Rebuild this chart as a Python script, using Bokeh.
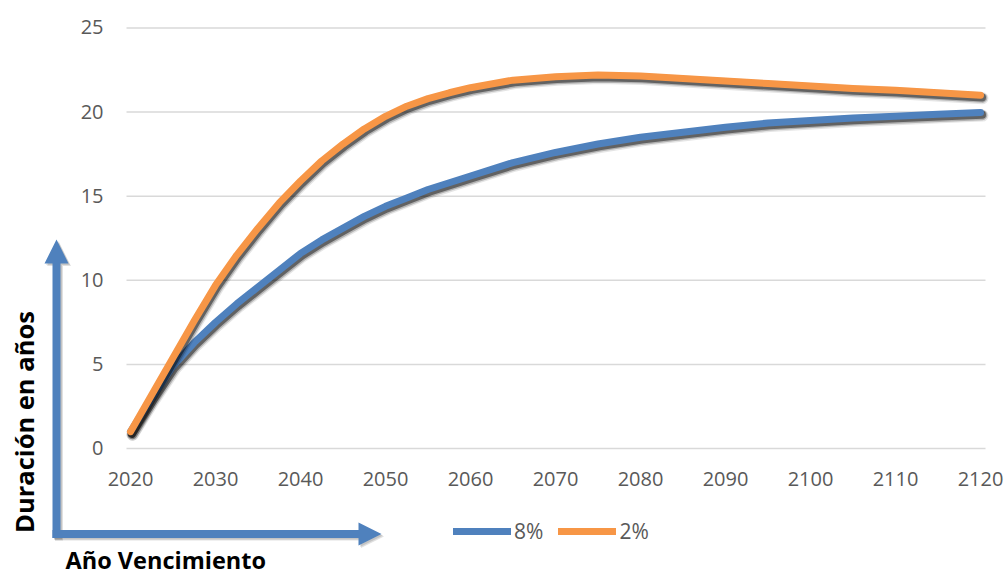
import math
from bokeh.plotting import figure
from bokeh.models import Range1d, Legend, LegendItem
from bokeh.core.properties import value
from bokeh.embed import file_html
from bokeh.resources import INLINE

# ---- data ----
years = [2020, 2022.5, 2025, 2027.5, 2030, 2032.5, 2035, 2037.5, 2040, 2042.5, 2045,
         2047.5, 2050, 2052.5, 2055, 2057.5, 2060, 2065, 2070, 2075, 2080, 2085,
         2090, 2095, 2100, 2105, 2110, 2115, 2120]
dur_8 = [1.0, 3.0, 4.9, 6.3, 7.5, 8.6, 9.6, 10.6, 11.6, 12.4, 13.1,
         13.8, 14.4, 14.9, 15.4, 15.8, 16.2, 17.0, 17.6, 18.1, 18.5, 18.8,
         19.1, 19.35, 19.5, 19.65, 19.76, 19.87, 19.97]
dur_2 = [1.0, 3.2, 5.4, 7.6, 9.7, 11.5, 13.1, 14.6, 15.9, 17.1, 18.1,
         19.0, 19.75, 20.35, 20.8, 21.15, 21.45, 21.9, 22.1, 22.2, 22.15, 22.0,
         21.85, 21.7, 21.55, 21.4, 21.3, 21.15, 21.0]
series_names = ["8%", "2%"]
x_ticks = [2020, 2030, 2040, 2050, 2060, 2070, 2080, 2090, 2100, 2110, 2120]
x_tick_labels = [str(t) for t in x_ticks]
y_ticks = [0, 5, 10, 15, 20, 25]
y_tick_labels = [str(t) for t in y_ticks]
x_title = "Año Vencimiento"
y_title = "Duración en años"

BLUE = "#4F81BD"
ORANGE = "#F79646"
GREY = "#595959"
GRID = "#d9d9d9"
FONT = "Open Sans"
W, H = 1007, 575

# scale: page pixels <-> data (frame covers the whole page)
PX_PER_YEAR = 8.5
PX_PER_UNIT = 16.82
X_PX_2020 = 130.0
Y_PX_0 = 448.0


def dx(px):
    return 2020 + (px - X_PX_2020) / PX_PER_YEAR


def dy(py):
    return (Y_PX_0 - py) / PX_PER_UNIT


p = figure(width=W, height=H, x_range=Range1d(dx(0), dx(W)), y_range=Range1d(dy(H), dy(0)),
           output_backend="svg", toolbar_location=None, min_border=0)
p.axis.visible = False
p.grid.visible = False
p.outline_line_color = None
p.background_fill_color = "white"
p.border_fill_color = "white"

# horizontal gridlines
p.segment(x0=[dx(126)] * len(y_ticks), x1=[dx(985)] * len(y_ticks), y0=y_ticks, y1=y_ticks,
          line_color=GRID, line_width=1.5)

# tick labels
p.text(x=x_ticks, y=[dy(478.5)] * len(x_ticks), text=x_tick_labels,
       text_align="center", text_baseline="middle", text_color=GREY,
       text_font=value(FONT), text_font_size="20px")
p.text(x=[dx(103)] * len(y_ticks), y=[t + 0.6 / PX_PER_UNIT for t in y_ticks], text=y_tick_labels,
       text_align="right", text_baseline="middle", text_color=GREY,
       text_font=value(FONT), text_font_size="20px")

# decorative axis arrows
v_arrow = [(52, 537.5), (60, 537.5), (60, 263), (68, 263), (56, 239), (44, 263), (52, 263)]
h_arrow = [(52, 529.5), (358, 529.5), (358, 522), (381, 533.5), (358, 545), (358, 537.5), (52, 537.5)]
for off, col, alpha in ((2.5, "black", 0.12), (1.5, "black", 0.12), (0, BLUE, 1.0)):
    p.patches(xs=[[dx(a + off) for a, b in poly] for poly in (v_arrow, h_arrow)],
              ys=[[dy(b + off) for a, b in poly] for poly in (v_arrow, h_arrow)],
              fill_color=col, fill_alpha=alpha, line_alpha=0)

# axis titles
p.text(x=[dx(23)], y=[dy(421.5)], text=[y_title], angle=math.pi / 2,
       text_align="center", text_baseline="middle", text_color="black",
       text_font=value(FONT), text_font_style="bold", text_font_size="25.5px")
p.text(x=[dx(65)], y=[dy(559)], text=[x_title],
       text_align="left", text_baseline="middle", text_color="black",
       text_font=value(FONT), text_font_style="bold", text_font_size="23.5px")

# series with soft drop shadow
px_x = 1.0 / PX_PER_YEAR
px_y = 1.0 / PX_PER_UNIT
renderers = []
for vals, col in ((dur_8, BLUE), (dur_2, ORANGE)):
    for w, a, ox, oy in ((12, 0.10, 2.0, 3.0), (10, 0.22, 1.8, 2.6), (8, 0.45, 1.5, 2.2)):
        p.line([x + ox * px_x for x in years], [v - oy * px_y for v in vals],
               line_width=w, line_color="black", line_alpha=a,
               line_cap="round", line_join="round")
    r = p.line(years, vals, line_width=7, line_color=col, line_cap="round", line_join="round")
    renderers.append(r)

legend = Legend(items=[LegendItem(label=series_names[0], renderers=[renderers[0]]),
                       LegendItem(label=series_names[1], renderers=[renderers[1]])],
                orientation="horizontal", location=(453, 30),
                glyph_width=58, glyph_height=20, label_standoff=3, spacing=15,
                padding=0, margin=0, border_line_color=None, background_fill_alpha=0,
                label_text_font=FONT, label_text_font_size="21px", label_text_color=GREY)
p.add_layout(legend, "center")

open("out.html", "w").write(file_html(p, INLINE))
